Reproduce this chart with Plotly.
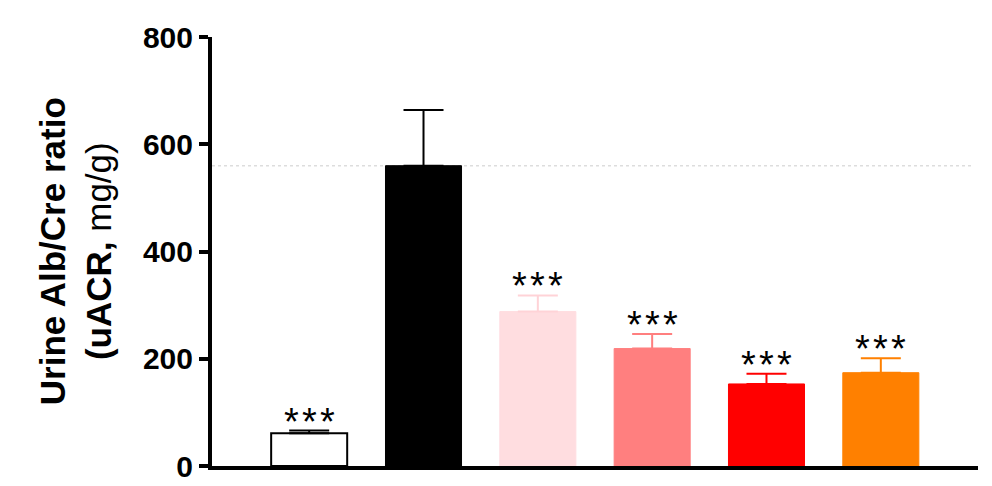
import plotly.graph_objects as go

# Group means and SEM for urine albumin/creatinine ratio (mg/g)
groups = ["Normal", "Model", "Low", "Mid", "High", "Positive"]
means = [61, 560, 288, 219, 153, 174]
sems = [5, 104, 30, 27, 19, 27]
stars = ["***", "", "***", "***", "***", "***"]
fill_colors = ["#FFFFFF", "#000000", "#FFDDE0", "#FF7F7F", "#FF0000", "#FF8000"]
edge_colors = ["#000000", "#000000", "#FFDDE0", "#FF7F7F", "#FF0000", "#FF8000"]
err_colors = ["#000000", "#000000", "#FFD3D7", "#FF7F7F", "#FF0000", "#FF8000"]
edge_widths = [2, 1, 1, 1, 1, 1]
y_ticks = [0, 200, 400, 600, 800]

FONT = "Liberation Sans, Arial, sans-serif"

fig = go.Figure()

for i, g in enumerate(groups):
    fig.add_trace(go.Bar(
        x=[i], y=[means[i]], name=g, width=0.665,
        marker=dict(color=fill_colors[i],
                    line=dict(color=edge_colors[i], width=edge_widths[i])),
        error_y=dict(type="data", array=[sems[i]], arrayminus=[0],
                     symmetric=False, color=err_colors[i],
                     thickness=2, width=20),
        showlegend=False,
    ))

# significance marks above each error bar
for i, s in enumerate(stars):
    if s:
        fig.add_annotation(
            x=i, y=means[i] + sems[i], text="\u200a".join(s),
            showarrow=False, yanchor="bottom", yshift=-14,
            font=dict(family=FONT, size=38, color="#000000"),
        )

# dotted reference line at the model group mean
fig.add_shape(type="line", xref="paper", yref="y", x0=0, x1=0.992,
              y0=means[1], y1=means[1], layer="below",
              line=dict(color="#DDDDDD", width=1.5, dash="dot"))

# y-axis title
fig.add_annotation(
    xref="paper", yref="paper", x=-0.178, y=0.5,
    xanchor="center", yanchor="middle", textangle=-90, showarrow=False,
    text="<b>Urine Alb/Cre ratio</b><br><b>(uACR,</b> mg/g)",
    font=dict(family=FONT, size=35, color="#000000"),
)

fig.update_layout(
    width=992, height=486,
    margin=dict(l=212, r=14, t=37, b=20, autoexpand=False),
    paper_bgcolor="white", plot_bgcolor="white",
    barmode="overlay",
    xaxis=dict(range=[-0.85, 5.85], showline=True, linewidth=4,
               linecolor="#000000", showgrid=False, zeroline=False,
               showticklabels=False, ticks="", automargin=False),
    yaxis=dict(range=[0, 800], tickvals=y_ticks, showline=True, linewidth=4,
               linecolor="#000000", showgrid=False, zeroline=False,
               automargin=False,
               ticks="outside", ticklen=9, tickwidth=3.5, tickcolor="#000000",
               tickfont=dict(family=FONT, size=30, color="#000000",
                             weight="bold")),
)

fig.write_html("out.html")
